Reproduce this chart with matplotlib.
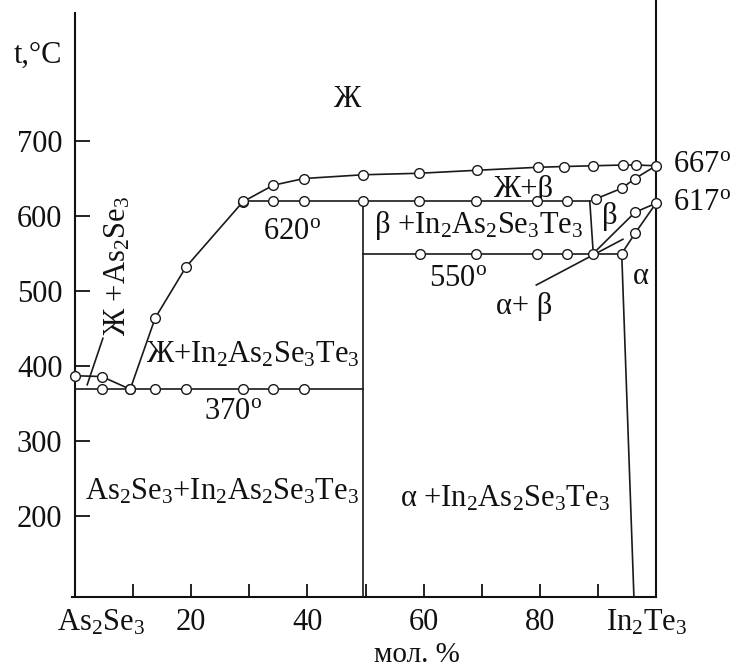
import matplotlib
matplotlib.use('Agg')
import matplotlib.pyplot as plt
import matplotlib.transforms as mtrans
from matplotlib.lines import Line2D

plt.rcParams['font.family'] = ['Liberation Serif', 'DejaVu Serif']
plt.rcParams['mathtext.fontset'] = 'custom'
plt.rcParams['mathtext.rm'] = 'Liberation Serif'
plt.rcParams['mathtext.it'] = 'Liberation Serif:italic'
plt.rcParams['mathtext.bf'] = 'Liberation Serif:bold'

# ---------------- data (mol. % In2Te3, temperature °C) ----------------
liq_left_x = [0, 4.6, 9.5]
liq_left_T = [387, 386, 369]
liq_x = [9.5, 13.8, 19.1, 28.9, 34.1, 39.4, 49.6, 59.2, 69.2, 79.7, 84.2, 89.2, 94.3, 96.6, 100]
liq_T = [369, 464, 532, 619, 641, 650, 655, 657, 661, 665, 666, 667, 668, 668, 667]

eut_T = 370
eut_line_x = [0, 49.5]
eut_pts_x = [4.6, 9.5, 13.8, 19.1, 28.9, 34.1, 39.4]

per_T = 620
per_line_x = [28.9, 88.6]
per_pts_x = [28.9, 34.1, 39.4, 49.5, 59.2, 69.1, 79.5, 84.6]

eutd_T = 550
eutd_line_x = [49.5, 94.1]
eutd_pts_x = [59.3, 69.0, 79.6, 84.6, 89.2, 94.1]

beta_liq_x = [89.7, 94.1, 96.4, 100]
beta_liq_T = [623, 637, 650, 667]
beta_bound_x = [88.6, 89.2]
beta_bound_T = [620, 550]
beta_solv_x = [100, 96.4, 89.2]
beta_solv_T = [617, 605, 550]
alpha_solv_x = [100, 96.4, 94.1, 96.2]
alpha_solv_T = [617, 577, 550, 92]
compound_x = [49.5, 49.5]
compound_T = [620, 92]

lead1_x = [2.1, 4.8]
lead1_T = [375, 437]
lead2_x = [79.4, 94.3]
lead2_T = [508, 569]

yticks = [200, 300, 400, 500, 600, 700]
xticks_major = [0, 20, 40, 60, 80, 100]
xtick_labels = [r'As$_2$Se$_3$', '20', '40', '60', '80', r'In$_2$Te$_3$']
xticks_minor = [10, 30, 50, 70, 90]

# ---------------- figure ----------------
W, H = 736, 669
fig = plt.figure(figsize=(W / 100, H / 100), dpi=100)
ax = fig.add_axes([75 / W, (H - 597) / H, 581 / W, 584 / H])
ax.set_xlim(0, 100)
ax.set_ylim(92, 870.7)

lc = '#1a1a1a'
lw = 1.2
mk = dict(marker='o', ms=7, mfc='white', mec=lc, mew=1.0, ls='none', zorder=5, clip_on=False)

def line(x, y):
    ax.plot(x, y, color=lc, lw=lw, zorder=3, clip_on=False)

line(liq_left_x, liq_left_T)
line(liq_x, liq_T)
line(eut_line_x, [eut_T, eut_T])
line(per_line_x, [per_T, per_T])
line(eutd_line_x, [eutd_T, eutd_T])
line(beta_liq_x, beta_liq_T)
line(beta_bound_x, beta_bound_T)
line(beta_solv_x, beta_solv_T)
line(alpha_solv_x, alpha_solv_T)
line(compound_x, compound_T)
line(lead1_x, lead1_T)
line(lead2_x, lead2_T)

ax.plot(liq_left_x[:2], liq_left_T[:2], **mk)
ax.plot(liq_x, liq_T, **mk)
ax.plot(eut_pts_x, [eut_T] * len(eut_pts_x), **mk)
ax.plot(per_pts_x, [per_T] * len(per_pts_x), **mk)
ax.plot(eutd_pts_x, [eutd_T] * len(eutd_pts_x), **mk)
ax.plot(beta_liq_x[:3], beta_liq_T[:3], **mk)
ax.plot([beta_solv_x[1]], [beta_solv_T[1]], **mk)
ax.plot([alpha_solv_x[0], alpha_solv_x[1]], [alpha_solv_T[0], alpha_solv_T[1]], **mk)

# spines
for s in ['top', 'right']:
    ax.spines[s].set_visible(False)
for s in ['left', 'bottom']:
    ax.spines[s].set_linewidth(1.5)
    ax.spines[s].set_color('#111')
ax.spines['bottom'].set_bounds(-0.5, 100)
ax.add_line(Line2D([1, 1], [0, 1 + 13 / 584], transform=ax.transAxes,
                   color='#111', lw=1.5, clip_on=False))

ax.set_yticks(yticks)
ax.set_yticklabels([str(v) for v in yticks])
ax.set_xticks(xticks_major)
ax.set_xticklabels(xtick_labels)
ax.set_xticks(xticks_minor, minor=True)
ax.tick_params(axis='y', direction='in', length=11, width=1.3, pad=9, labelsize=22, colors='#111')
ax.tick_params(axis='x', which='both', direction='in', length=9.5, width=1.3, pad=8, labelsize=22, colors='#111')

tl = ax.get_xticklabels()
tl[0].set_transform(tl[0].get_transform() + mtrans.ScaledTranslation(26 / 100, 0, fig.dpi_scale_trans))
tl[-1].set_transform(tl[-1].get_transform() + mtrans.ScaledTranslation(-9 / 100, 0, fig.dpi_scale_trans))

fs = 22
deg = r'$^{\mathrm{o}}$'
kw = dict(fontsize=fs, color='#111', ha='center', va='center')
ax.text(46.8, 755, 'Ж', **kw)
ax.text(77.1, 636, 'Ж+β', **kw)
ax.text(37.3, 580, '620' + deg, **kw)
ax.text(69.4, 587, r'β +In$_2$As$_2$Se$_3$Te$_3$', **kw)
ax.text(92.1, 600, 'β', **kw)
ax.text(65.9, 517, '550' + deg, **kw)
ax.text(77.3, 479, 'α+ β', **kw)
ax.text(97.3, 520, 'α', **kw)
ax.text(7.4, 533, r'Ж +As$_2$Se$_3$', rotation=90, **kw)
ax.text(30.6, 415, r'Ж+In$_2$As$_2$Se$_3$Te$_3$', **kw)
ax.text(27.2, 339, '370' + deg, **kw)
ax.text(25.3, 232, r'As$_2$Se$_3$+In$_2$As$_2$Se$_3$Te$_3$', **kw)
ax.text(74.0, 223, r'α +In$_2$As$_2$Se$_3$Te$_3$', **kw)
ax.text(103, 669, '667' + deg, fontsize=fs, color='#111', ha='left', va='center', clip_on=False)
ax.text(103, 618, '617' + deg, fontsize=fs, color='#111', ha='left', va='center', clip_on=False)

fig.text(38 / W, 1 - 55 / H, 't,°C', fontsize=fs, color='#111', ha='center', va='center')
fig.text(417 / W, 1 - 655 / H, 'мол. %', fontsize=21, color='#111', ha='center', va='center')

fig.savefig('out.png', dpi=100)
